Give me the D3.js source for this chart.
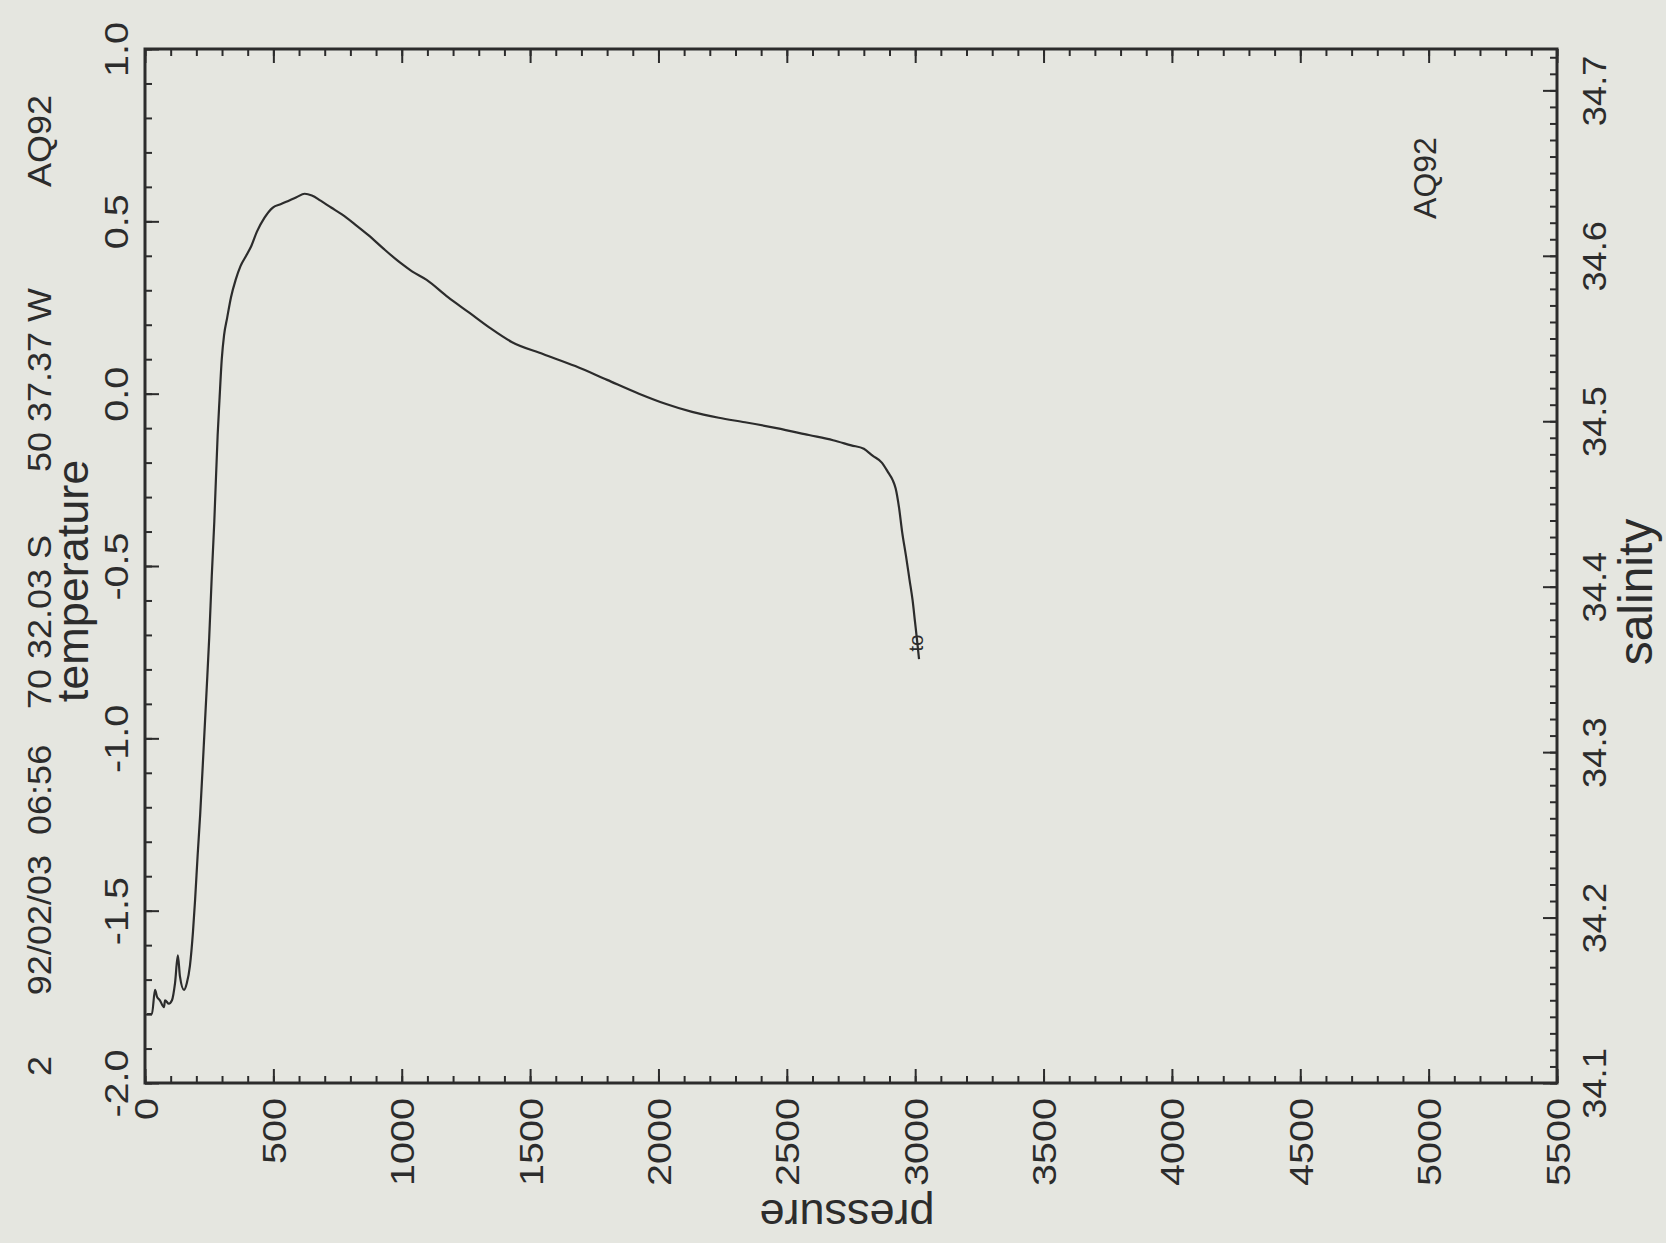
<!DOCTYPE html>
<html>
<head>
<meta charset="utf-8">
<script src="https://cdn.jsdelivr.net/npm/d3@7"></script>
<style>
  html, body { margin: 0; padding: 0; background: #e5e6e0; }
  svg { display: block; font-family: "Liberation Sans", Arial, sans-serif; }
</style>
</head>
<body>
<svg id="chart"></svg>
<script>
'use strict';

// CTD cast AQ92 - temperature vs pressure
var pressure = [8, 27, 39, 47, 58, 74, 78, 93, 105, 117, 128, 136, 152, 163, 175, 187, 195, 205, 215, 229, 240, 250, 260, 270, 283, 290, 299, 308, 320, 335, 353, 372, 394, 415, 436, 465, 498, 530, 560, 590, 622, 650, 684, 725, 767, 820, 870, 930, 994, 1040, 1097, 1180, 1263, 1345, 1428, 1550, 1676, 1800, 1924, 2030, 2131, 2235, 2337, 2460, 2586, 2680, 2751, 2800, 2834, 2870, 2896, 2912, 2924, 2937, 2949, 2964, 2978, 2990, 2999, 3008, 3015];
var temperature = [-1.80, -1.80, -1.73, -1.75, -1.76, -1.78, -1.76, -1.77, -1.76, -1.71, -1.63, -1.69, -1.73, -1.71, -1.66, -1.56, -1.47, -1.34, -1.22, -1.02, -0.86, -0.71, -0.53, -0.37, -0.12, -0.02, 0.10, 0.17, 0.22, 0.28, 0.33, 0.37, 0.40, 0.43, 0.47, 0.51, 0.54, 0.55, 0.56, 0.57, 0.58, 0.575, 0.56, 0.54, 0.52, 0.49, 0.46, 0.42, 0.38, 0.355, 0.33, 0.28, 0.235, 0.19, 0.15, 0.115, 0.08, 0.04, 0.0, -0.03, -0.053, -0.07, -0.083, -0.10, -0.12, -0.135, -0.15, -0.16, -0.18, -0.20, -0.23, -0.25, -0.275, -0.33, -0.40, -0.47, -0.54, -0.60, -0.66, -0.72, -0.77];

var pressureTicks = [0, 500, 1000, 1500, 2000, 2500, 3000, 3500, 4000, 4500, 5000, 5500];
var temperatureTicks = [-2.0, -1.5, -1.0, -0.5, 0.0, 0.5, 1.0];
var salinityTicks = [34.1, 34.2, 34.3, 34.4, 34.5, 34.6, 34.7];

var headerTexts = ['2', '92/02/03  06:56', '70 32.03 S', '50 37.37 W', 'AQ92'];
var headerY = [1066, 870, 622, 380, 141];

function render() {
    var w = 1666;
    var h = 1243;
    var d3 = window.d3;
    var ink = '#2c2c2c';

    var left = 145, right = 1557, top = 49, bottom = 1083;

    var svg = d3.select('#chart').attr('width', w).attr('height', h);
    svg.append('rect').attr('width', w).attr('height', h).attr('fill', '#e5e6e0');

    var x = d3.scaleLinear().domain([0, 5500]).range([left, right]);
    var yT = d3.scaleLinear().domain([-2, 1]).range([bottom, top]);
    var yS = d3.scaleLinear().domain([34.1, 34.725]).range([bottom, top]);

    var fmt1 = function (d) { return d.toFixed(1); };

    function styleAxis(g) {
        g.select('.domain').remove();
        g.selectAll('line').attr('stroke', ink).attr('stroke-width', 2);
        g.selectAll('text').attr('fill', ink).attr('font-size', 33)
            .attr('font-family', '"Liberation Sans", Arial, sans-serif');
    }

    // minor ticks
    svg.append('g').attr('transform', 'translate(0,' + bottom + ')')
        .call(d3.axisBottom(x).tickValues(d3.range(0, 5501, 100)).tickSize(-7).tickFormat(''))
        .call(styleAxis);
    svg.append('g').attr('transform', 'translate(0,' + top + ')')
        .call(d3.axisTop(x).tickValues(d3.range(0, 5501, 100)).tickSize(-7).tickFormat(''))
        .call(styleAxis);
    svg.append('g').attr('transform', 'translate(' + left + ',0)')
        .call(d3.axisLeft(yT).tickValues(d3.range(-20, 11).map(function (d) { return d / 10; })).tickSize(-7).tickFormat(''))
        .call(styleAxis);
    svg.append('g').attr('transform', 'translate(' + right + ',0)')
        .call(d3.axisRight(yS).tickValues(d3.range(3410, 3473).map(function (d) { return d / 100; })).tickSize(-7).tickFormat(''))
        .call(styleAxis);

    // major ticks + labels
    var gx = svg.append('g').attr('transform', 'translate(0,' + bottom + ')')
        .call(d3.axisBottom(x).tickValues(pressureTicks).tickSize(-14).tickFormat(d3.format('d')))
        .call(styleAxis);
    gx.selectAll('text').attr('y', null).attr('dy', null)
        .attr('text-anchor', 'end')
        .attr('transform', 'translate(12,15) rotate(-90) scale(1.2,1)');

    svg.append('g').attr('transform', 'translate(0,' + top + ')')
        .call(d3.axisTop(x).tickValues(pressureTicks).tickSize(-14).tickFormat(''))
        .call(styleAxis);

    var gy = svg.append('g').attr('transform', 'translate(' + left + ',0)')
        .call(d3.axisLeft(yT).tickValues(temperatureTicks).tickSize(-14).tickFormat(fmt1))
        .call(styleAxis);
    gy.selectAll('text').attr('x', null).attr('dy', null)
        .attr('text-anchor', 'middle')
        .attr('transform', 'translate(-17,0) rotate(-90) scale(1.2,1)');

    var gs = svg.append('g').attr('transform', 'translate(' + right + ',0)')
        .call(d3.axisRight(yS).tickValues(salinityTicks).tickSize(-14).tickFormat(fmt1))
        .call(styleAxis);
    gs.selectAll('text').attr('x', null).attr('dy', null)
        .attr('text-anchor', 'middle')
        .attr('transform', 'translate(49,0) rotate(-90) scale(1.1,1)');

    // frame
    svg.append('rect').attr('x', left).attr('y', top)
        .attr('width', right - left).attr('height', bottom - top)
        .attr('fill', 'none').attr('stroke', ink).attr('stroke-width', 3);

    // temperature profile
    var line = d3.line()
        .curve(d3.curveMonotoneX)
        .x(function (d, i) { return x(pressure[i]); })
        .y(function (d, i) { return yT(temperature[i]); });
    svg.append('path').datum(pressure).attr('d', line)
        .attr('fill', 'none').attr('stroke', ink).attr('stroke-width', 2.2)
        .attr('stroke-linejoin', 'round');

    // end-of-cast marker
    var last = pressure.length - 1;
    svg.append('text')
        .attr('transform', 'translate(' + (x(pressure[last]) + 4) + ',' + (yT(temperature[last]) - 16) + ') rotate(-90)')
        .attr('text-anchor', 'middle').attr('font-size', 20).attr('fill', ink)
        .text('to');

    // header column
    svg.selectAll('.hdr').data(headerTexts).enter().append('text')
        .attr('class', 'hdr')
        .attr('transform', function (d, i) { return 'translate(51,' + headerY[i] + ') rotate(-90) scale(1.06,1)'; })
        .attr('text-anchor', 'middle').attr('font-size', 34).attr('fill', ink)
        .style('white-space', 'pre')
        .text(function (d) { return d; });

    // axis titles
    svg.append('text').attr('transform', 'translate(88,581) rotate(-90)')
        .attr('text-anchor', 'middle').attr('font-size', 45).attr('fill', ink).text('temperature');
    svg.append('text').attr('transform', 'translate(1652,592) rotate(-90)')
        .attr('text-anchor', 'middle').attr('font-size', 48).attr('fill', ink).text('salinity');
    svg.append('text').attr('transform', 'translate(847,1200) rotate(180)')
        .attr('text-anchor', 'middle').attr('font-size', 45).attr('fill', ink).text('pressure');

    // station label inside plot
    svg.append('text').attr('transform', 'translate(1436,178) rotate(-90)')
        .attr('text-anchor', 'middle').attr('font-size', 32).attr('fill', ink).text('AQ92');
}

render();
</script>
</body>
</html>
